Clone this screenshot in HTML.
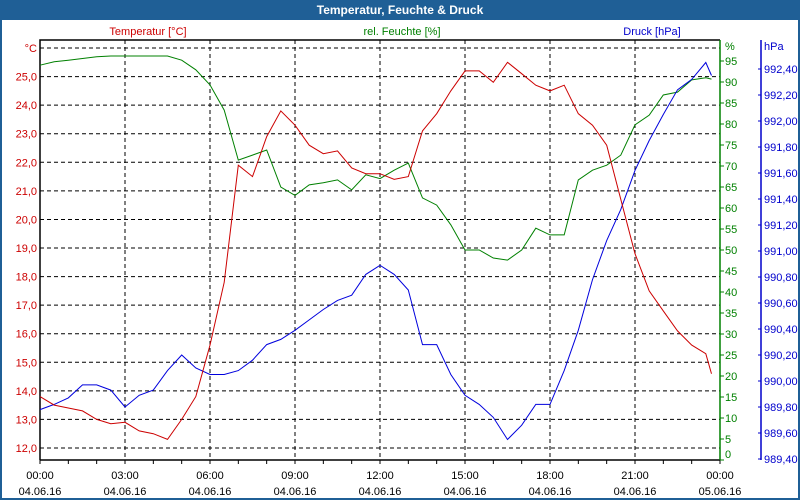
<!DOCTYPE html>
<html><head><meta charset="utf-8"><style>
body{margin:0;background:#fff;}
#wrap{position:relative;width:800px;height:500px;overflow:hidden;font-family:"Liberation Sans",sans-serif;}
</style></head><body>
<div id="wrap">
<svg id="chart" width="800" height="500" xmlns="http://www.w3.org/2000/svg" font-family="Liberation Sans, sans-serif" font-size="11">
<rect x="0" y="0" width="800" height="500" fill="#fff"/>
<rect x="1" y="1" width="798" height="498" fill="none" stroke="#1f5f96" stroke-width="2"/>
<rect x="0" y="0" width="800" height="20" fill="#1f5f96"/>
<text x="400" y="14" fill="#fff" font-weight="bold" font-size="12" text-anchor="middle">Temperatur, Feuchte &amp; Druck</text>
<text x="148" y="35" fill="#cc0000" text-anchor="middle">Temperatur [°C]</text>
<text x="402" y="35" fill="#008000" text-anchor="middle">rel. Feuchte [%]</text>
<text x="652" y="35" fill="#0000cc" text-anchor="middle">Druck [hPa]</text>
<g id="grid"></g><g id="axes"></g><g id="series"></g>
</svg>
</div>
<script>
const hours=[0,0.5,1,1.5,2,2.5,3,3.5,4,4.5,5,5.5,6,6.5,7,7.5,8,8.5,9,9.5,10,10.5,11,11.5,12,12.5,13,13.5,14,14.5,15,15.5,16,16.5,17,17.5,18,18.5,19,19.5,20,20.5,21,21.5,22,22.5,23,23.5,24];
const tempValues=[13.8,13.5,13.4,13.3,13.0,12.85,12.9,12.6,12.5,12.3,13.0,13.8,15.6,17.8,21.9,21.5,22.9,23.8,23.3,22.6,22.3,22.4,21.8,21.6,21.6,21.4,21.5,23.1,23.7,24.5,25.2,25.2,24.8,25.5,25.1,24.7,24.5,24.7,23.7,23.3,22.6,20.7,18.8,17.5,16.8,16.1,15.6,15.3,14.6];
const humValues=[94,94.8,95.2,95.6,96,96.2,96.2,96.2,96.2,96.2,95.2,92.9,89.3,83.3,71.4,72.6,73.8,65,63,65.5,66,66.7,64.3,67.9,67,69,70.7,62.4,60.7,56,50,50,48.1,47.6,50,55.2,53.6,53.6,66.7,69,70.2,72.6,79.8,82.1,86.9,87.6,90.5,91,90.7];
const presValues=[989.78,989.82,989.87,989.97,989.97,989.93,989.80,989.89,989.93,990.08,990.20,990.10,990.05,990.05,990.08,990.16,990.28,990.32,990.39,990.47,990.55,990.62,990.66,990.82,990.89,990.82,990.70,990.28,990.28,990.05,989.89,989.82,989.72,989.55,989.66,989.82,989.82,990.08,990.39,990.78,991.08,991.32,991.62,991.85,992.05,992.24,992.32,992.45,992.35];
const tempTicks=[12,13,14,15,16,17,18,19,20,21,22,23,24,25];
const humTicks=[0,5,10,15,20,25,30,35,40,45,50,55,60,65,70,75,80,85,90,95];
const presTicks=[989.4,989.6,989.8,990.0,990.2,990.4,990.6,990.8,991.0,991.2,991.4,991.6,991.8,992.0,992.2,992.4];
const timeLabels=["00:00","03:00","06:00","09:00","12:00","15:00","18:00","21:00","00:00"];
const dateLabels=["04.06.16","04.06.16","04.06.16","04.06.16","04.06.16","04.06.16","04.06.16","04.06.16","05.06.16"];

const L=40,R=720,T=40,B=460;
const xS=h=>L+h*(R-L)/24;
const yT=v=>448-(v-12)*28.57;
const yH=v=>460-v*4.2;
const yP=v=>433-(v-989.6)*130;
const NS="http://www.w3.org/2000/svg";
function mk(tag,attrs,parent,txt){const e=document.createElementNS(NS,tag);for(const k in attrs)e.setAttribute(k,attrs[k]);if(txt!==undefined)e.textContent=txt;parent.appendChild(e);return e;}
const grid=document.getElementById('grid'),axes=document.getElementById('axes'),series=document.getElementById('series');
// horizontal grid at temperature ticks (plus 26)
[...tempTicks,26].forEach(v=>{const l=mk('line',{x1:L,x2:R,y1:yT(v),y2:yT(v),stroke:'#000','stroke-dasharray':'4,3','stroke-width':1},grid);

});
for(let i=1;i<8;i++){const l=mk('line',{x1:xS(i*3),x2:xS(i*3),y1:T,y2:B,stroke:'#000','stroke-dasharray':'4,3'},grid);

}
// frame
const fr=mk('path',{d:`M${L},${B}V${T}H${R}`,fill:'none',stroke:'#000','stroke-width':1.5},axes);


const xa=mk('line',{x1:L,x2:R,y1:B,y2:B,stroke:'#000','stroke-width':1.5},axes);


for(let i=0;i<=24;i++){const t=mk('line',{x1:xS(i),x2:xS(i),y1:B,y2:B+4,stroke:'#000'},axes);

}
timeLabels.forEach((s,i)=>{const t=mk('text',{x:xS(i*3),y:479,'text-anchor':'middle',fill:'#000'},axes,s);


const d=mk('text',{x:xS(i*3),y:495,'text-anchor':'middle',fill:'#000'},axes,dateLabels[i]);

});
// temp axis labels
tempTicks.forEach(v=>{const t=mk('text',{x:37,y:yT(v)+4,'text-anchor':'end',fill:'#cc0000'},axes,v.toFixed(1).replace('.',','));

});
const tu=mk('text',{x:37,y:yT(26)+4,'text-anchor':'end',fill:'#cc0000'},axes,'°C');


// humidity axis
const ha=mk('line',{x1:R,x2:R,y1:T,y2:B,stroke:'#008000','stroke-width':1.5},axes);


humTicks.forEach(v=>{const k=mk('line',{x1:R,x2:R+4,y1:yH(v),y2:yH(v),stroke:'#008000'},axes);


const t=mk('text',{x:R+5,y:yH(v)+4-(v===0?6:0),fill:'#008000'},axes,String(v));

});
const hu=mk('text',{x:R+5,y:50,fill:'#008000'},axes,'%');


// pressure axis
const pa=mk('line',{x1:761,x2:761,y1:T,y2:B,stroke:'#0000cc','stroke-width':1.5},axes);


presTicks.forEach(v=>{const k=mk('line',{x1:758,x2:761,y1:yP(v),y2:yP(v),stroke:'#0000cc'},axes);


const t=mk('text',{x:764,y:yP(v)+4,fill:'#0000cc'},axes,v.toFixed(2).replace('.',','));

});
const pu=mk('text',{x:764,y:50,fill:'#0000cc'},axes,'hPa');


// series
function line(vals,yf,col,name){const d=vals.map((v,i)=>(i?'L':'M')+xS(Math.min(hours[i],23.7)).toFixed(1)+','+yf(v).toFixed(1)).join('');
const p=mk('path',{d:d,fill:'none',stroke:col,'stroke-width':1},series);

}
line(humValues,yH,'#008000','humidity-line');
line(presValues,yP,'#0000dd','pressure-line');
line(tempValues,yT,'#cc0000','temperature-line');
</script>
</body></html>
